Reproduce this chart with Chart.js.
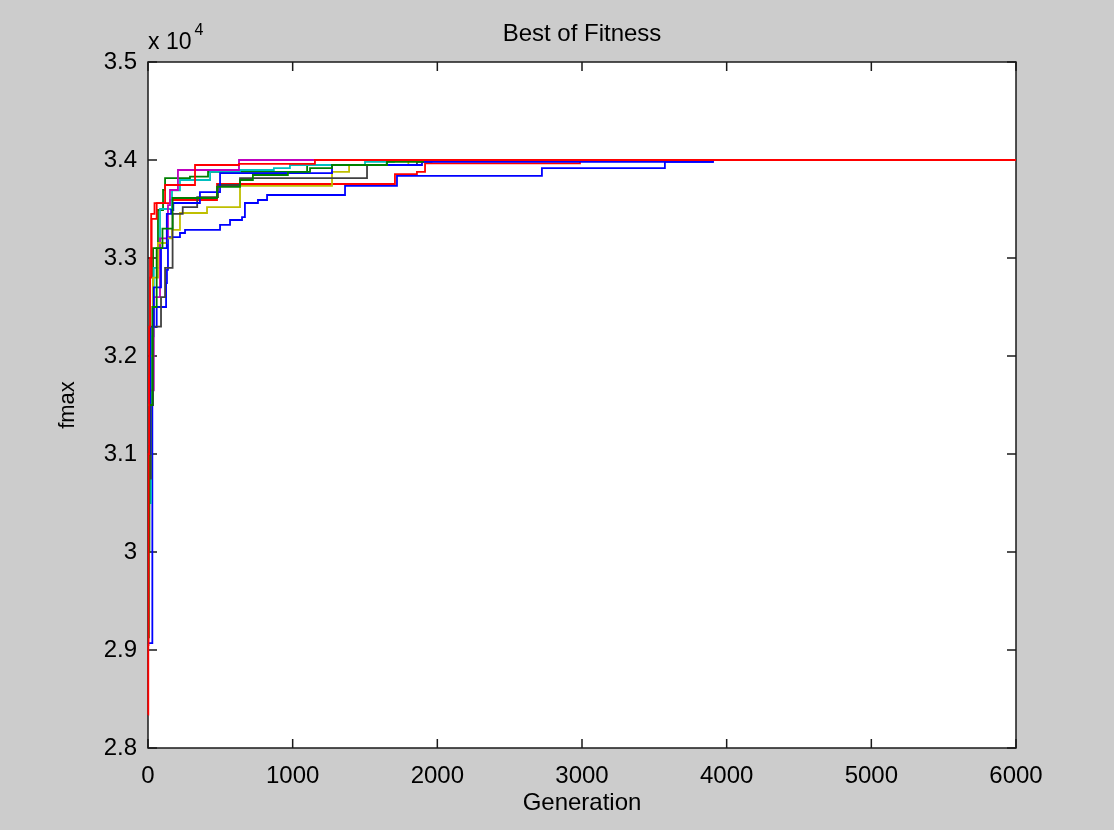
<!DOCTYPE html>
<html>
<head>
<meta charset="utf-8">
<title>Best of Fitness</title>
<script src="https://cdn.jsdelivr.net/npm/chart.js@4.4.1/dist/chart.umd.min.js"></script>
<style>
  html, body { margin: 0; padding: 0; background: #cccccc; }
  #wrap { width: 1114px; height: 830px; position: relative; }
</style>
</head>
<body>
<div id="wrap"><canvas id="fitness-chart"></canvas></div>
<script>
// generation / best fitness for each run (step curves)
const run1Gen = [0, 30, 60, 125, 131, 138, 221, 256, 498, 567, 650, 670, 760, 823, 1362, 1721, 2723, 3573, 3905, 6000];
const run1Fit = [29070, 32296, 32500, 32745, 32878, 33214, 33255, 33286, 33337, 33388, 33418, 33561, 33592, 33643, 33735, 33837, 33918, 33980, 34000, 34000];

const run2Gen = [0, 6, 14, 35, 69, 104, 118, 290, 415, 1100, 1650, 6000];
const run2Fit = [29130, 30806, 32000, 33100, 33490, 33694, 33816, 33830, 33878, 33949, 34000, 34000];

const run3Gen = [0, 8, 15, 25, 60, 152, 477, 1707, 1859, 1915, 2986, 6000];
const run3Fit = [30800, 31800, 32800, 33400, 33560, 33592, 33755, 33855, 33878, 33965, 34000, 34000];

const run4Gen = [0, 20, 40, 83, 166, 221, 429, 636, 870, 981, 1500, 1700, 6000];
const run4Fit = [30500, 32200, 32900, 33500, 33690, 33796, 33878, 33898, 33918, 33949, 33980, 34000, 34000];

const run5Gen = [0, 10, 40, 83, 138, 152, 207, 629, 6000];
const run5Fit = [31100, 31650, 32600, 33200, 33540, 33694, 33898, 34000, 34000];

const run6Gen = [0, 15, 35, 69, 131, 166, 221, 408, 636, 1272, 1390, 1800, 6000];
const run6Fit = [31500, 32000, 32800, 33153, 33200, 33286, 33459, 33520, 33735, 33878, 33949, 34000, 34000];

const run7Gen = [0, 20, 35, 90, 118, 170, 240, 340, 484, 636, 1514, 1859, 1960, 6000];
const run7Fit = [30750, 31500, 32300, 32600, 32900, 33450, 33520, 33622, 33745, 33816, 33949, 33980, 34000, 34000];

const run8Gen = [0, 15, 40, 90, 130, 160, 175, 359, 498, 1272, 1894, 3905, 6000];
const run8Fit = [31000, 32300, 32700, 33100, 33450, 33490, 33561, 33673, 33867, 33949, 33980, 34000, 34000];

const run9Gen = [0, 10, 30, 60, 100, 170, 477, 636, 725, 967, 1120, 1272, 1652, 1900, 6000];
const run9Fit = [30000, 31500, 32500, 33100, 33300, 33612, 33725, 33796, 33847, 33878, 33918, 33949, 33980, 34000, 34000];

const run10Gen = [0, 2, 4, 8, 14, 22, 45, 118, 325, 629, 1154, 6000];
const run10Fit = [28340, 29050, 31000, 32300, 33000, 33450, 33560, 33745, 33949, 33960, 34000, 34000];

const xTicks = [0, 1000, 2000, 3000, 4000, 5000, 6000];
const yTicks = [28000, 29000, 30000, 31000, 32000, 33000, 34000, 35000];

const runs = [
  [run1Gen, run1Fit], [run2Gen, run2Fit], [run3Gen, run3Fit], [run4Gen, run4Fit], [run5Gen, run5Fit],
  [run6Gen, run6Fit], [run7Gen, run7Fit], [run8Gen, run8Fit], [run9Gen, run9Fit], [run10Gen, run10Fit]
];

// old matlab colour order, cycled
const lineColors = ['#0000ff', '#008000', '#ff0000', '#00bfbf', '#bf00bf', '#bfbf00', '#404040'];

const FONT = '"Liberation Sans", Arial, sans-serif';

function toPoints(gen, fit) {
  return gen.map((g, i) => ({ x: g, y: fit[i] }));
}

const frame = {
  id: 'frame',
  beforeDraw(chart) {
    const { ctx, chartArea: a } = chart;
    ctx.save();
    ctx.fillStyle = '#ffffff';
    ctx.fillRect(a.left, a.top, a.right - a.left, a.bottom - a.top);
    ctx.restore();
  },
  beforeDatasetsDraw(chart) {
    const { ctx, chartArea: a, scales } = chart;
    const tick = 9;
    ctx.save();
    ctx.strokeStyle = '#1a1a1a';
    ctx.lineWidth = 1.5;
    ctx.strokeRect(a.left, a.top, a.right - a.left, a.bottom - a.top);
    ctx.beginPath();
    xTicks.forEach(v => {
      const px = scales.x.getPixelForValue(v);
      ctx.moveTo(px, a.bottom); ctx.lineTo(px, a.bottom - tick);
      ctx.moveTo(px, a.top); ctx.lineTo(px, a.top + tick);
    });
    yTicks.forEach(v => {
      const py = scales.y.getPixelForValue(v);
      ctx.moveTo(a.left, py); ctx.lineTo(a.left + tick, py);
      ctx.moveTo(a.right, py); ctx.lineTo(a.right - tick, py);
    });
    ctx.stroke();
    ctx.restore();
  },
  afterDraw(chart) {
    const { ctx, chartArea: a } = chart;
    ctx.save();
    ctx.fillStyle = '#000000';
    ctx.textBaseline = 'middle';
    ctx.textAlign = 'center';
    ctx.font = '24px ' + FONT;
    ctx.fillText('Best of Fitness', (a.left + a.right) / 2, 34);
    ctx.fillText('Generation', (a.left + a.right) / 2, 803);
    ctx.save();
    ctx.translate(68, (a.top + a.bottom) / 2);
    ctx.rotate(-Math.PI / 2);
    ctx.font = '22px ' + FONT;
    ctx.fillText('fmax', 0, 0);
    ctx.restore();
    // exponent label
    ctx.textAlign = 'left';
    ctx.font = '23px ' + FONT;
    ctx.fillText('x 10', a.left, 43);
    const w = ctx.measureText('x 10').width;
    ctx.font = '16px ' + FONT;
    ctx.fillText('4', a.left + w + 3, 31);
    ctx.restore();
  }
};

const ctx = document.getElementById('fitness-chart').getContext('2d');
const fitnessChart = new Chart(ctx, {
  type: 'line',
  data: {
    datasets: runs.map((r, i) => ({
      label: 'Run ' + (i + 1),
      data: toPoints(r[0], r[1]),
      borderColor: lineColors[i % lineColors.length],
      borderWidth: 1.8,
      stepped: true,
      pointRadius: 0,
      fill: false,
      clip: false,
      order: runs.length - i   // later runs drawn on top, like hold on
    }))
  },
  options: {
    responsive: true,
    maintainAspectRatio: false,
    animation: false,
    events: [],
    layout: { padding: { top: 62, right: 98, bottom: 0, left: 0 } },
    plugins: {
      legend: { display: false },
      title: { display: false },
      tooltip: { enabled: false }
    },
    scales: {
      x: {
        type: 'linear',
        min: 0,
        max: 6000,
        grid: { display: false },
        border: { display: false },
        afterFit: scale => { scale.height = 82; },
        afterBuildTicks: scale => { scale.ticks = xTicks.map(v => ({ value: v })); },
        ticks: {
          color: '#000000',
          padding: 6,
          maxRotation: 0,
          font: { family: FONT, size: 24 },
          callback: v => String(v)
        }
      },
      y: {
        type: 'linear',
        min: 28000,
        max: 35000,
        grid: { display: false },
        border: { display: false },
        afterFit: scale => { scale.width = 148; },
        afterBuildTicks: scale => { scale.ticks = yTicks.map(v => ({ value: v })); },
        ticks: {
          color: '#000000',
          padding: 3,
          font: { family: FONT, size: 24 },
          callback: v => String(v / 10000)
        }
      }
    }
  },
  plugins: [frame]
});
</script>
</body>
</html>
